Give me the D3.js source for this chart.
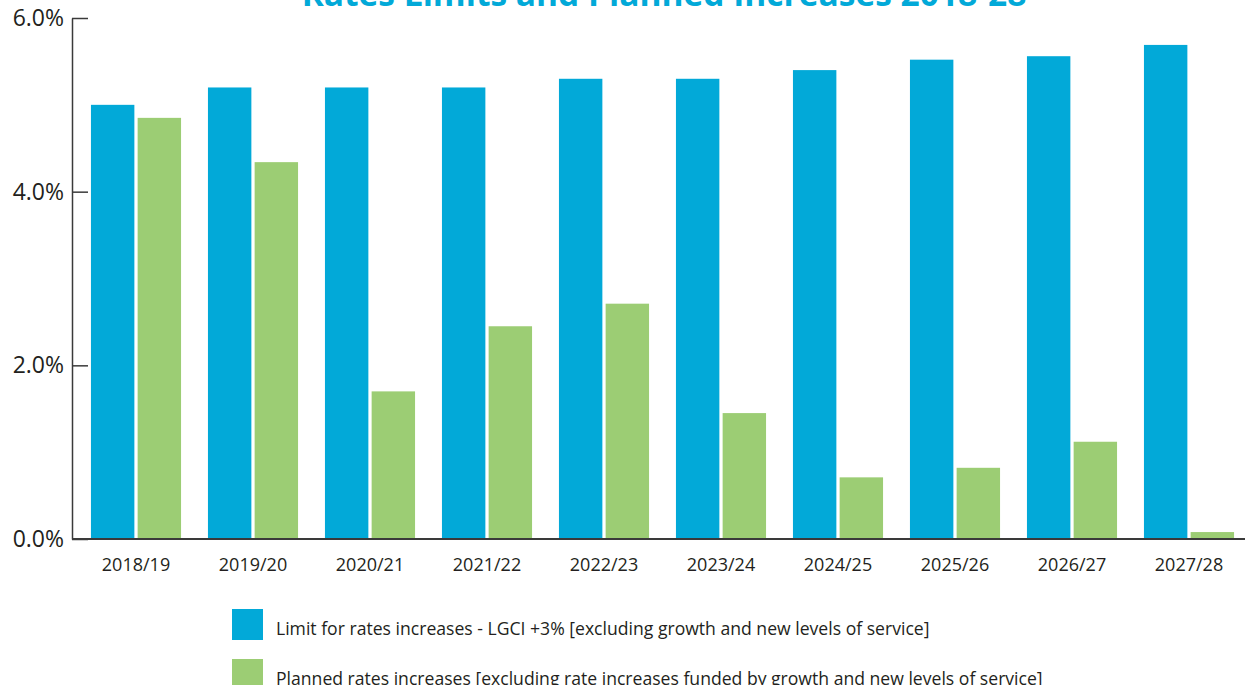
<!DOCTYPE html>
<html>
<head>
<meta charset="utf-8">
<script src="https://cdn.jsdelivr.net/npm/d3@7"></script>
<style>
  body { margin: 0; background: #fff; }
  text { font-family: "Open Sans", sans-serif; fill: #231f20; }
</style>
</head>
<body>
<div id="barChart"></div>
<script>
// 1: DATA
const years = ["2018/19", "2019/20", "2020/21", "2021/22", "2022/23",
               "2023/24", "2024/25", "2025/26", "2026/27", "2027/28"];
const limitValues = [5.0, 5.2, 5.2, 5.2, 5.3, 5.3, 5.4, 5.52, 5.56, 5.69];
const plannedValues = [4.85, 4.34, 1.70, 2.45, 2.71, 1.45, 0.71, 0.82, 1.12, 0.08];
const yTicks = [0, 2, 4, 6];
const seriesKeys = ["limit", "planned"];
const seriesLabels = [
    "Limit for rates increases - LGCI +3% [excluding growth and new levels of service]",
    "Planned rates increases [excluding rate increases funded by growth and new levels of service]"
];

// 2: GLOBAL VARIABLES
const width = 1245, height = 685;
const axisX = 72, baseY = 539, topY = 18;
const colors = { limit: "#02a9d8", planned: "#9ccd74" };

const svg = d3.select("#barChart")
    .append("svg")
    .attr("width", width)
    .attr("height", height);

// table built from the arrays above
const rows = years.map((y, i) => ({ year: y, limit: limitValues[i], planned: plannedValues[i] }));

// 3: SCALES
const xScale = d3.scaleBand()
    .domain(years)
    .range([77.5, 1247.5])
    .paddingInner(0.23)
    .paddingOuter(0.115);
const xSub = d3.scaleBand()
    .domain(seriesKeys)
    .range([0, xScale.bandwidth()])
    .paddingInner(0.07);
const yScale = d3.scaleLinear()
    .domain([0, 6])
    .range([baseY, topY]);

// 4: BARS
const groups = svg.selectAll(".group")
    .data(rows)
    .enter()
    .append("g")
    .attr("class", "group")
    .attr("transform", d => `translate(${xScale(d.year)},0)`);

groups.selectAll("rect")
    .data(d => seriesKeys.map(k => ({ key: k, value: d[k] })))
    .enter()
    .append("rect")
    .attr("x", d => xSub(d.key))
    .attr("width", xSub.bandwidth())
    .attr("y", d => yScale(d.value))
    .attr("height", d => baseY - yScale(d.value))
    .style("fill", d => colors[d.key]);

// 5: AXES
const yAxis = svg.append("g")
    .attr("transform", `translate(${axisX},0)`)
    .call(d3.axisLeft(yScale)
        .tickValues(yTicks)
        .tickSizeInner(-16)
        .tickSizeOuter(0)
        .tickPadding(8)
        .tickFormat(d => d3.format(".1f")(d) + "%"));
yAxis.selectAll("path, line").style("stroke", "#3a3a3a").style("stroke-width", 1.5);
yAxis.selectAll("text")
    .style("font-size", "23px")
    .style("font-family", "'Open Sans', sans-serif")
    .style("fill", "#231f20");

const xAxis = svg.append("g")
    .attr("transform", `translate(0,${baseY})`)
    .call(d3.axisBottom(xScale).tickSize(0).tickPadding(19));
xAxis.select(".domain").remove();
xAxis.selectAll("text")
    .style("font-size", "18px")
    .style("font-family", "'Open Sans', sans-serif")
    .style("fill", "#231f20");

// baseline
svg.append("line")
    .attr("x1", axisX)
    .attr("x2", width)
    .attr("y1", baseY)
    .attr("y2", baseY)
    .style("stroke", "#3a3a3a")
    .style("stroke-width", 2);

// 6: TITLE (cut off at top edge, as in the source)
svg.append("text")
    .text("Rates Limits and Planned Increases 2018-28")
    .attr("x", 664)
    .attr("y", 6)
    .attr("text-anchor", "middle")
    .style("font-size", "33.5px")
    .style("font-weight", "bold")
    .style("fill", "#02a9d8");

// 7: LEGEND
const legend = svg.selectAll(".legend")
    .data(seriesKeys)
    .enter()
    .append("g")
    .attr("class", "legend")
    .attr("transform", (d, i) => `translate(232, ${609 + i * 50})`);
legend.append("rect")
    .attr("width", 31)
    .attr("height", 31)
    .style("fill", d => colors[d]);
legend.append("text")
    .text((d, i) => seriesLabels[i])
    .attr("x", 44)
    .attr("y", 20)
    .attr("dy", "0.35em")
    .style("font-size", "17.6px");
</script>
</body>
</html>
